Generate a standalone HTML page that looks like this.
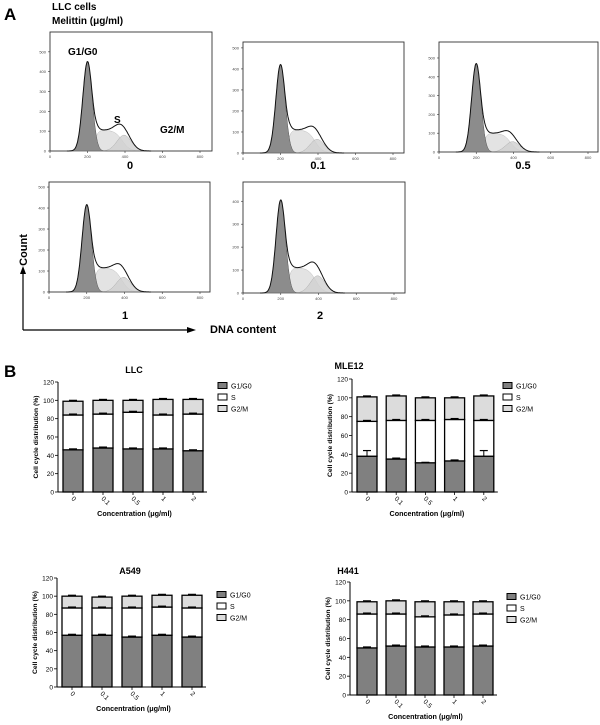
<!DOCTYPE html>
<html><head><meta charset="utf-8"><style>
body{margin:0;background:#fff}
svg{display:block;font-family:"Liberation Sans",Arial,sans-serif}
</style></head><body>
<svg id="fig" width="600" height="725" viewBox="0 0 600 725" xmlns="http://www.w3.org/2000/svg">
<text x="4" y="20" font-size="17" font-weight="bold">A</text>
<text x="52" y="10" font-size="10" font-weight="bold">LLC cells</text>
<text x="52" y="24" font-size="10" font-weight="bold">Melittin (μg/ml)</text>
<text x="4" y="377" font-size="17" font-weight="bold">B</text>
<g>
<line x1="23" y1="330" x2="23" y2="272" stroke="#000" stroke-width="1.2"/>
<polygon points="23,266 20,274 26,274" fill="#000"/>
<line x1="23" y1="330" x2="188" y2="330" stroke="#000" stroke-width="1.2"/>
<polygon points="196,330 187,327 187,333" fill="#000"/>
</g>
<text x="0" y="0" transform="translate(27,250) rotate(-90)" text-anchor="middle" font-size="11" font-weight="bold">Count</text>
<text x="210" y="333" font-size="11" font-weight="bold">DNA content</text>
<g id="hists"></g>
<g id="bars"></g>
</svg>
<script>
const NS="http://www.w3.org/2000/svg";
function mk(tag,attrs,parent){const e=document.createElementNS(NS,tag);for(const k in attrs)e.setAttribute(k,attrs[k]);parent.appendChild(e);return e;}

// ---- Histogram data (peak heights, counts) ----
const histLabels=["0","0.1","0.5","1","2"];
const g1Peaks=[450,420,470,415,405];
const sLevels=[105,110,100,115,110];
const g2Peaks=[80,65,55,70,75];
const histTicksY=[[0,100,200,300,400,500],[0,100,200,300,400,500],[0,100,200,300,400,500],[0,100,200,300,400,500],[0,100,200,300,400]];
const histTicksX=[0,200,400,600,800];
const histBoxes=[
 {l:50,r:212,t:32,b:151,x800:200,yTop:600,lx:130,ly:169},
 {l:243,r:404,t:42,b:153,x800:393,yTop:528,lx:318,ly:169},
 {l:439,r:598,t:42,b:152,x800:588,yTop:585,lx:523,ly:169},
 {l:49,r:210,t:182,b:292,x800:200,yTop:524,lx:125,ly:319},
 {l:243,r:405,t:182,b:293,x800:394,yTop:484,lx:320,ly:319}];
const H=document.getElementById('hists');
function gauss(x,m,s){return Math.exp(-0.5*((x-m)/s)**2);}
histLabels.forEach((lab,i)=>{
 const bx=histBoxes[i];
 const g=mk('g',{},H);
 
 
 const xs=v=>bx.l+(v/800)*(bx.x800-bx.l);
 const ys=v=>bx.b-(v/bx.yTop)*(bx.b-bx.t);
 mk('rect',{x:bx.l,y:bx.t,width:bx.r-bx.l,height:bx.b-bx.t,fill:'#fff',stroke:'#333','stroke-width':0.9},g);
 const G1=x=>g1Peaks[i]*gauss(x,200,25);
 const S=x=>sLevels[i]*(1/(1+Math.exp(-(x-240)/9)))*(1/(1+Math.exp((x-385)/20)));
 const G2=x=>g2Peaks[i]*gauss(x,395,38);
 function path(f){let d='M'+xs(100)+','+ys(0);for(let x=100;x<=540;x+=3)d+='L'+xs(x).toFixed(1)+','+ys(f(x)).toFixed(1);return d+'L'+xs(540)+','+ys(0)+'Z';}
 mk('path',{d:path(S),fill:'#e3e3e3',stroke:'#bbb','stroke-width':0.5},g);
 mk('path',{d:path(G2),fill:'#cfcfcf',stroke:'#aaa','stroke-width':0.5,'fill-opacity':0.8},g);
 mk('path',{d:path(G1),fill:'#8c8c8c',stroke:'#555','stroke-width':0.5},g);
 let d='';for(let x=90;x<=540;x+=3){const v=G1(x)+S(x)+G2(x);d+=(x===90?'M':'L')+xs(x).toFixed(1)+','+ys(v).toFixed(1);}
 const o=mk('path',{d:d,fill:'none',stroke:'#111','stroke-width':1},g);
 
 
 histTicksY[i].forEach(t=>{mk('line',{x1:bx.l-2,x2:bx.l,y1:ys(t),y2:ys(t),stroke:'#333','stroke-width':0.6},g);
  const tx=mk('text',{x:bx.l-4,y:ys(t)+1.5,'font-size':4,'text-anchor':'end',fill:'#444'},g);tx.textContent=t;});
 histTicksX.forEach(t=>{mk('line',{x1:xs(t),x2:xs(t),y1:bx.b,y2:bx.b+2,stroke:'#333','stroke-width':0.6},g);
  const tx=mk('text',{x:xs(t),y:bx.b+7,'font-size':4,'text-anchor':'middle',fill:'#444'},g);tx.textContent=t;});
 const lt=mk('text',{x:bx.lx,y:bx.ly,'font-size':11,'font-weight':'bold','text-anchor':'middle'},g);
 
 
 lt.textContent=lab;
});
[['G1/G0',68,55],['S',114,123],['G2/M',160,133]].forEach(a=>{const t=mk('text',{x:a[1],y:a[2],'font-size':10,'font-weight':'bold'},H);
 
 
 t.textContent=a[0];});

// ---- Bar chart data ----
const categories=["0","0.1","0.5","1","2"];
const llcG1=[46,48,47,47,45], llcGS=[84,85,87,84,85], llcTot=[99,100,100,101,101];
const mleG1=[38,35,31,33,38], mleGS=[75,76,76,77,76], mleTot=[101,102,100,100,102];
const mleErrG1=[6,1,0.5,1,6];
const a549G1=[57,57,55,57,55], a549GS=[87,87,87,88,87], a549Tot=[100,99,100,101,101];
const h441G1=[50,52,51,51,52], h441GS=[86,86,83,85,86], h441Tot=[99,100,99,99,99];
const yTicks=[0,20,40,60,80,100,120];
const charts=[
 {name:'LLC',g1:llcG1,gs:llcGS,tot:llcTot,err:[1,1,1,1,1],ax:58,y0:492,y120:382,b0:63,pitch:30,bw:20,lgx:218,lgy:386,tx:134,ty:373},
 {name:'MLE12',g1:mleG1,gs:mleGS,tot:mleTot,err:mleErrG1,ax:352,y0:492,y120:379,b0:357,pitch:29.2,bw:20,lgx:503,lgy:386,tx:349,ty:369},
 {name:'A549',g1:a549G1,gs:a549GS,tot:a549Tot,err:[1,1,1,1,1],ax:57,y0:687,y120:578,b0:62,pitch:30,bw:20,lgx:217,lgy:595,tx:130,ty:574},
 {name:'H441',g1:h441G1,gs:h441GS,tot:h441Tot,err:[1,1,1,1,1],ax:350,y0:695,y120:582,b0:357,pitch:29,bw:20,lgx:507,lgy:597,tx:348,ty:574}];
const B=document.getElementById('bars');
charts.forEach(c=>{
 const g=mk('g',{},B);
 
 
 const y=v=>c.y0-(v/120)*(c.y0-c.y120);
 const t=mk('text',{x:c.tx,y:c.ty,'font-size':9,'font-weight':'bold','text-anchor':'middle'},g);
 
 
 t.textContent=c.name;
 mk('line',{x1:c.ax,x2:c.ax,y1:c.y120,y2:c.y0,stroke:'#000','stroke-width':1},g);
 const xEnd=c.b0+c.pitch*4+c.bw+4;
 mk('line',{x1:c.ax,x2:xEnd,y1:c.y0,y2:c.y0,stroke:'#000','stroke-width':1},g);
 yTicks.forEach(v=>{mk('line',{x1:c.ax-3,x2:c.ax,y1:y(v),y2:y(v),stroke:'#000','stroke-width':0.8},g);
  const tt=mk('text',{x:c.ax-4,y:y(v)+2.5,'font-size':6.5,'text-anchor':'end'},g);tt.textContent=v;});
 const yl=mk('text',{transform:`translate(${c.ax-20},${(c.y0+c.y120)/2}) rotate(-90)`,'font-size':6.8,'font-weight':'bold','text-anchor':'middle'},g);
 
 
 yl.textContent='Cell cycle distribution (%)';
 const xl=mk('text',{x:(c.ax+xEnd)/2+2,y:c.y0+24,'font-size':7.2,'font-weight':'bold','text-anchor':'middle'},g);
 
 
 xl.textContent='Concentration (μg/ml)';
 categories.forEach((cat,i)=>{
  const x=c.b0+i*c.pitch, cx=x+c.bw/2;
  const segs=[[0,c.g1[i],'#808080','g1'],[c.g1[i],c.gs[i],'#ffffff','s'],[c.gs[i],c.tot[i],'#dcdcdc','g2m']];
  segs.forEach(s=>{const r=mk('rect',{x:x,y:y(s[1]),width:c.bw,height:y(s[0])-y(s[1]),fill:s[2],stroke:'#000','stroke-width':1.3},g);
   
   });
  [[c.g1[i],c.err[i]],[c.gs[i],1],[c.tot[i],1]].forEach(e=>{
   mk('line',{x1:cx,x2:cx,y1:y(e[0]),y2:y(e[0]+e[1]),stroke:'#000','stroke-width':1},g);
   mk('line',{x1:cx-4,x2:cx+4,y1:y(e[0]+e[1]),y2:y(e[0]+e[1]),stroke:'#000','stroke-width':1.2},g);});
  mk('line',{x1:cx,x2:cx,y1:c.y0,y2:c.y0+3,stroke:'#000','stroke-width':0.8},g);
  const lt=mk('text',{transform:`translate(${cx-2},${c.y0+7}) rotate(45)`,'font-size':6.5,'text-anchor':'start'},g);
  lt.textContent=cat;
 });
 [['G1/G0','#808080'],['S','#ffffff'],['G2/M','#dcdcdc']].forEach((l,j)=>{
  const lg=mk('g',{},g);
  
  
  mk('rect',{x:c.lgx,y:c.lgy+j*11.5-3.5,width:9,height:6,fill:l[1],stroke:'#000','stroke-width':1},lg);
  const lt=mk('text',{x:c.lgx+13,y:c.lgy+j*11.5+2.5,'font-size':7},lg);lt.textContent=l[0];
 });
});
</script>
</body></html>
